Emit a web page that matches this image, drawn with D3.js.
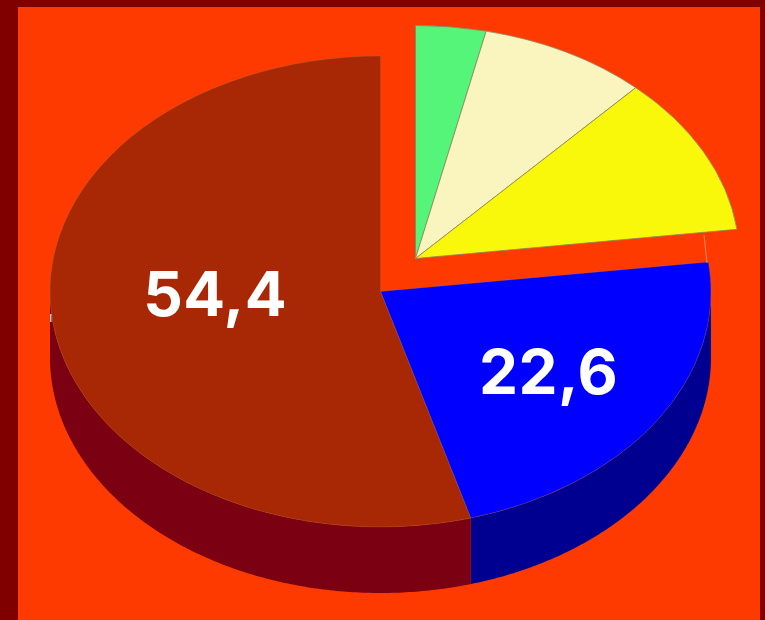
<!DOCTYPE html>
<html>
<head>
<meta charset="utf-8">
<script src="https://cdn.jsdelivr.net/npm/d3@7"></script>
<style>
    html, body { margin: 0; padding: 0; background: #800000; overflow: hidden; }
    svg { display: block; }
</style>
</head>
<body>
<svg id="chart" width="765" height="620"></svg>
<script>
// values, clockwise from 12 o'clock
let categories = ["green", "cream", "yellow", "blue", "darkred"];
let shares = [3.5, 8.4, 11.1, 22.6, 54.4];
let labels = ["", "", "", "22,6", "54,4"];
let exploded = ["green", "cream", "yellow"];

let topColors = ["#55f57a", "#faf5be", "#faf80a", "#0000ff", "#a82805"];
let sideColors = ["none", "none", "none", "#000090", "#7a0012"];

let width = 765, height = 620;
let cx = 380.5, cy = 291.5, rx = 330.5, ry = 235.5, depth = 66;
let offsetX = 35, offsetY = -33;
// the pulled out slices are drawn a little smaller than the main pie
let outRx = 324, outRy = 233;
let labelRadius = { blue: 0.61, darkred: 0.505 };
let labelShift = { blue: 0, darkred: -15 };

let svg = d3.select("#chart");

// background and frame
svg.append("rect").attr("width", width).attr("height", height).attr("fill", "#800000");
svg.append("rect").attr("x", 18).attr("y", 7).attr("width", 742).attr("height", 613).attr("fill", "#ff3a00");

let pie = d3.pie().sort(null).value(function (d) { return d; });
let slices = pie(shares);

let arc = d3.arc().innerRadius(0).outerRadius(rx);
let outArc = d3.arc().innerRadius(0).outerRadius(outRx);

function ex(a) { return Math.sin(a) * rx; }
function ey(a) { return -Math.cos(a) * ry; }

let g = svg.append("g").style("filter", "blur(0.5px)");

// side wall, only the front half of the ellipse shows
let side = d3.area()
    .x(function (a) { return cx + ex(a); })
    .y0(function (a) { return cy + ey(a); })
    .y1(function (a) { return cy + ey(a) + depth; });

slices.forEach(function (s, i) {
    if (exploded.includes(categories[i])) return;
    let start = Math.max(s.startAngle, Math.PI / 2);
    let end = Math.min(s.endAngle, 3 * Math.PI / 2);
    if (end <= start) return;
    g.append("path")
        .attr("d", side(d3.range(start, end, 0.01).concat([end])))
        .attr("fill", sideColors[i]);
});

// top faces
slices.forEach(function (s, i) {
    let isOut = exploded.includes(categories[i]);
    let transform = isOut
        ? "translate(" + (cx + offsetX) + "," + (cy + offsetY) + ") scale(1," + (outRy / outRx) + ")"
        : "translate(" + cx + "," + cy + ") scale(1," + (ry / rx) + ")";
    g.append("path")
        .attr("d", isOut ? outArc(s) : arc(s))
        .attr("transform", transform)
        .attr("fill", topColors[i])
        .attr("stroke", "#8a8a60")
        .attr("stroke-opacity", isOut ? 0.8 : 0.25)
        .attr("stroke-width", 1)
        .attr("vector-effect", "non-scaling-stroke");
});

// the pale seam under the yellow slice and the white speck on the left rim
g.append("line")
    .attr("x1", 704).attr("y1", 235).attr("x2", 707).attr("y2", 263)
    .attr("stroke", "#ff8a60").attr("stroke-width", 1);
g.append("rect")
    .attr("x", 50).attr("y", 314).attr("width", 1.5).attr("height", 8)
    .attr("fill", "#d8c8c0");

// value labels
slices.forEach(function (s, i) {
    if (!labels[i]) return;
    let mid = (s.startAngle + s.endAngle) / 2;
    let f = labelRadius[categories[i]];
    svg.append("text")
        .attr("x", cx + ex(mid) * f)
        .attr("y", cy + ey(mid) * f + labelShift[categories[i]] + 23)
        .attr("text-anchor", "middle")
        .attr("font-family", "Inter, sans-serif")
        .attr("font-weight", "bold")
        .attr("font-size", 62)
        .attr("letter-spacing", 0.5)
        .attr("fill", "#ffffff")
        .text(labels[i]);
});
</script>
</body>
</html>
